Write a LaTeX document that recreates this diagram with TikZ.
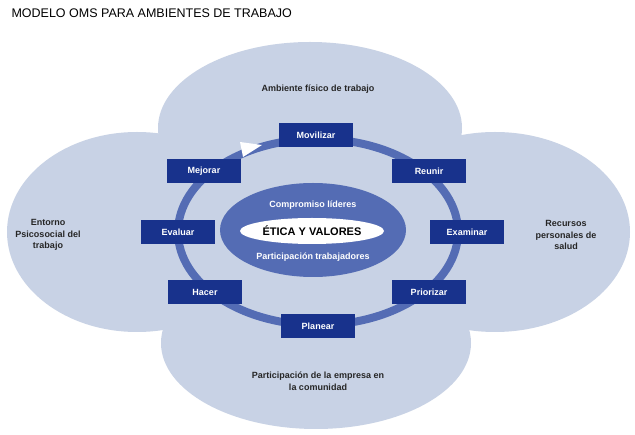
\documentclass[tikz,border=0pt]{standalone}
\usepackage{fontspec}
\setmainfont{Liberation Sans}
\usetikzlibrary{arrows.meta}
\definecolor{bigc}{RGB}{200,210,229}
\definecolor{ringc}{RGB}{84,108,180}
\definecolor{boxc}{RGB}{24,50,140}
\tikzset{
  x=1pt,y=-1pt,
  big/.style={fill=bigc,draw=none},
  stage/.style={fill=boxc,text=white,font=\bfseries\fontsize{9}{10}\selectfont,minimum width=74pt,minimum height=24pt,inner sep=0pt},
  lab/.style={font=\bfseries\fontsize{9}{11.5}\selectfont,align=center,text=black!85}
}
\begin{document}
\begin{tikzpicture}
\useasboundingbox (0,0) rectangle (635,435);
\fill[white] (0,0) rectangle (635,435);
\node[anchor=west,font=\fontsize{12.5}{14}\selectfont] (title) at (8,13) {MODELO OMS PARA AMBIENTES DE TRABAJO};
\fill[big] (310,128) ellipse [x radius=152, y radius=86];
\fill[big] (137,232) ellipse [x radius=130, y radius=100];
\fill[big] (495,232) ellipse [x radius=135, y radius=100];
\fill[big] (316,343) ellipse [x radius=155, y radius=86];
\draw[ringc,line width=8pt] (318,232) ellipse [x radius=140, y radius=93];
\fill[white] (240,142) -- (262,145) -- (243,157) -- cycle;
\fill[ringc] (313,230) ellipse [x radius=93, y radius=47];
\fill[white] (312,231) ellipse [x radius=72, y radius=13];
\node[font=\bfseries\fontsize{11}{13}\selectfont] (etica) at (312,231) {ÉTICA Y VALORES};
\node[text=white,font=\bfseries\fontsize{9}{10}\selectfont] (comp) at (313,205) {Compromiso líderes};
\node[text=white,font=\bfseries\fontsize{9}{10}\selectfont] (part) at (313,257) {Participación trabajadores};
\node[stage] (movilizar) at (316,135) {Movilizar};
\node[stage] (reunir) at (429,171) {Reunir};
\node[stage] (examinar) at (467,232) {Examinar};
\node[stage] (priorizar) at (429,292) {Priorizar};
\node[stage] (planear) at (318,326) {Planear};
\node[stage] (hacer) at (205,292) {Hacer};
\node[stage] (evaluar) at (178,232) {Evaluar};
\node[stage] (mejorar) at (204,171) {Mejorar};
\node[lab] (fisico) at (318,89) {Ambiente físico de trabajo};
\node[lab] (psico) at (48,235) {Entorno\\Psicosocial del\\trabajo};
\node[lab] (recursos) at (566,235) {Recursos\\personales de\\salud};
\node[lab] (comunidad) at (318,381) {Participación de la empresa en\\la comunidad};
\end{tikzpicture}
\end{document}
